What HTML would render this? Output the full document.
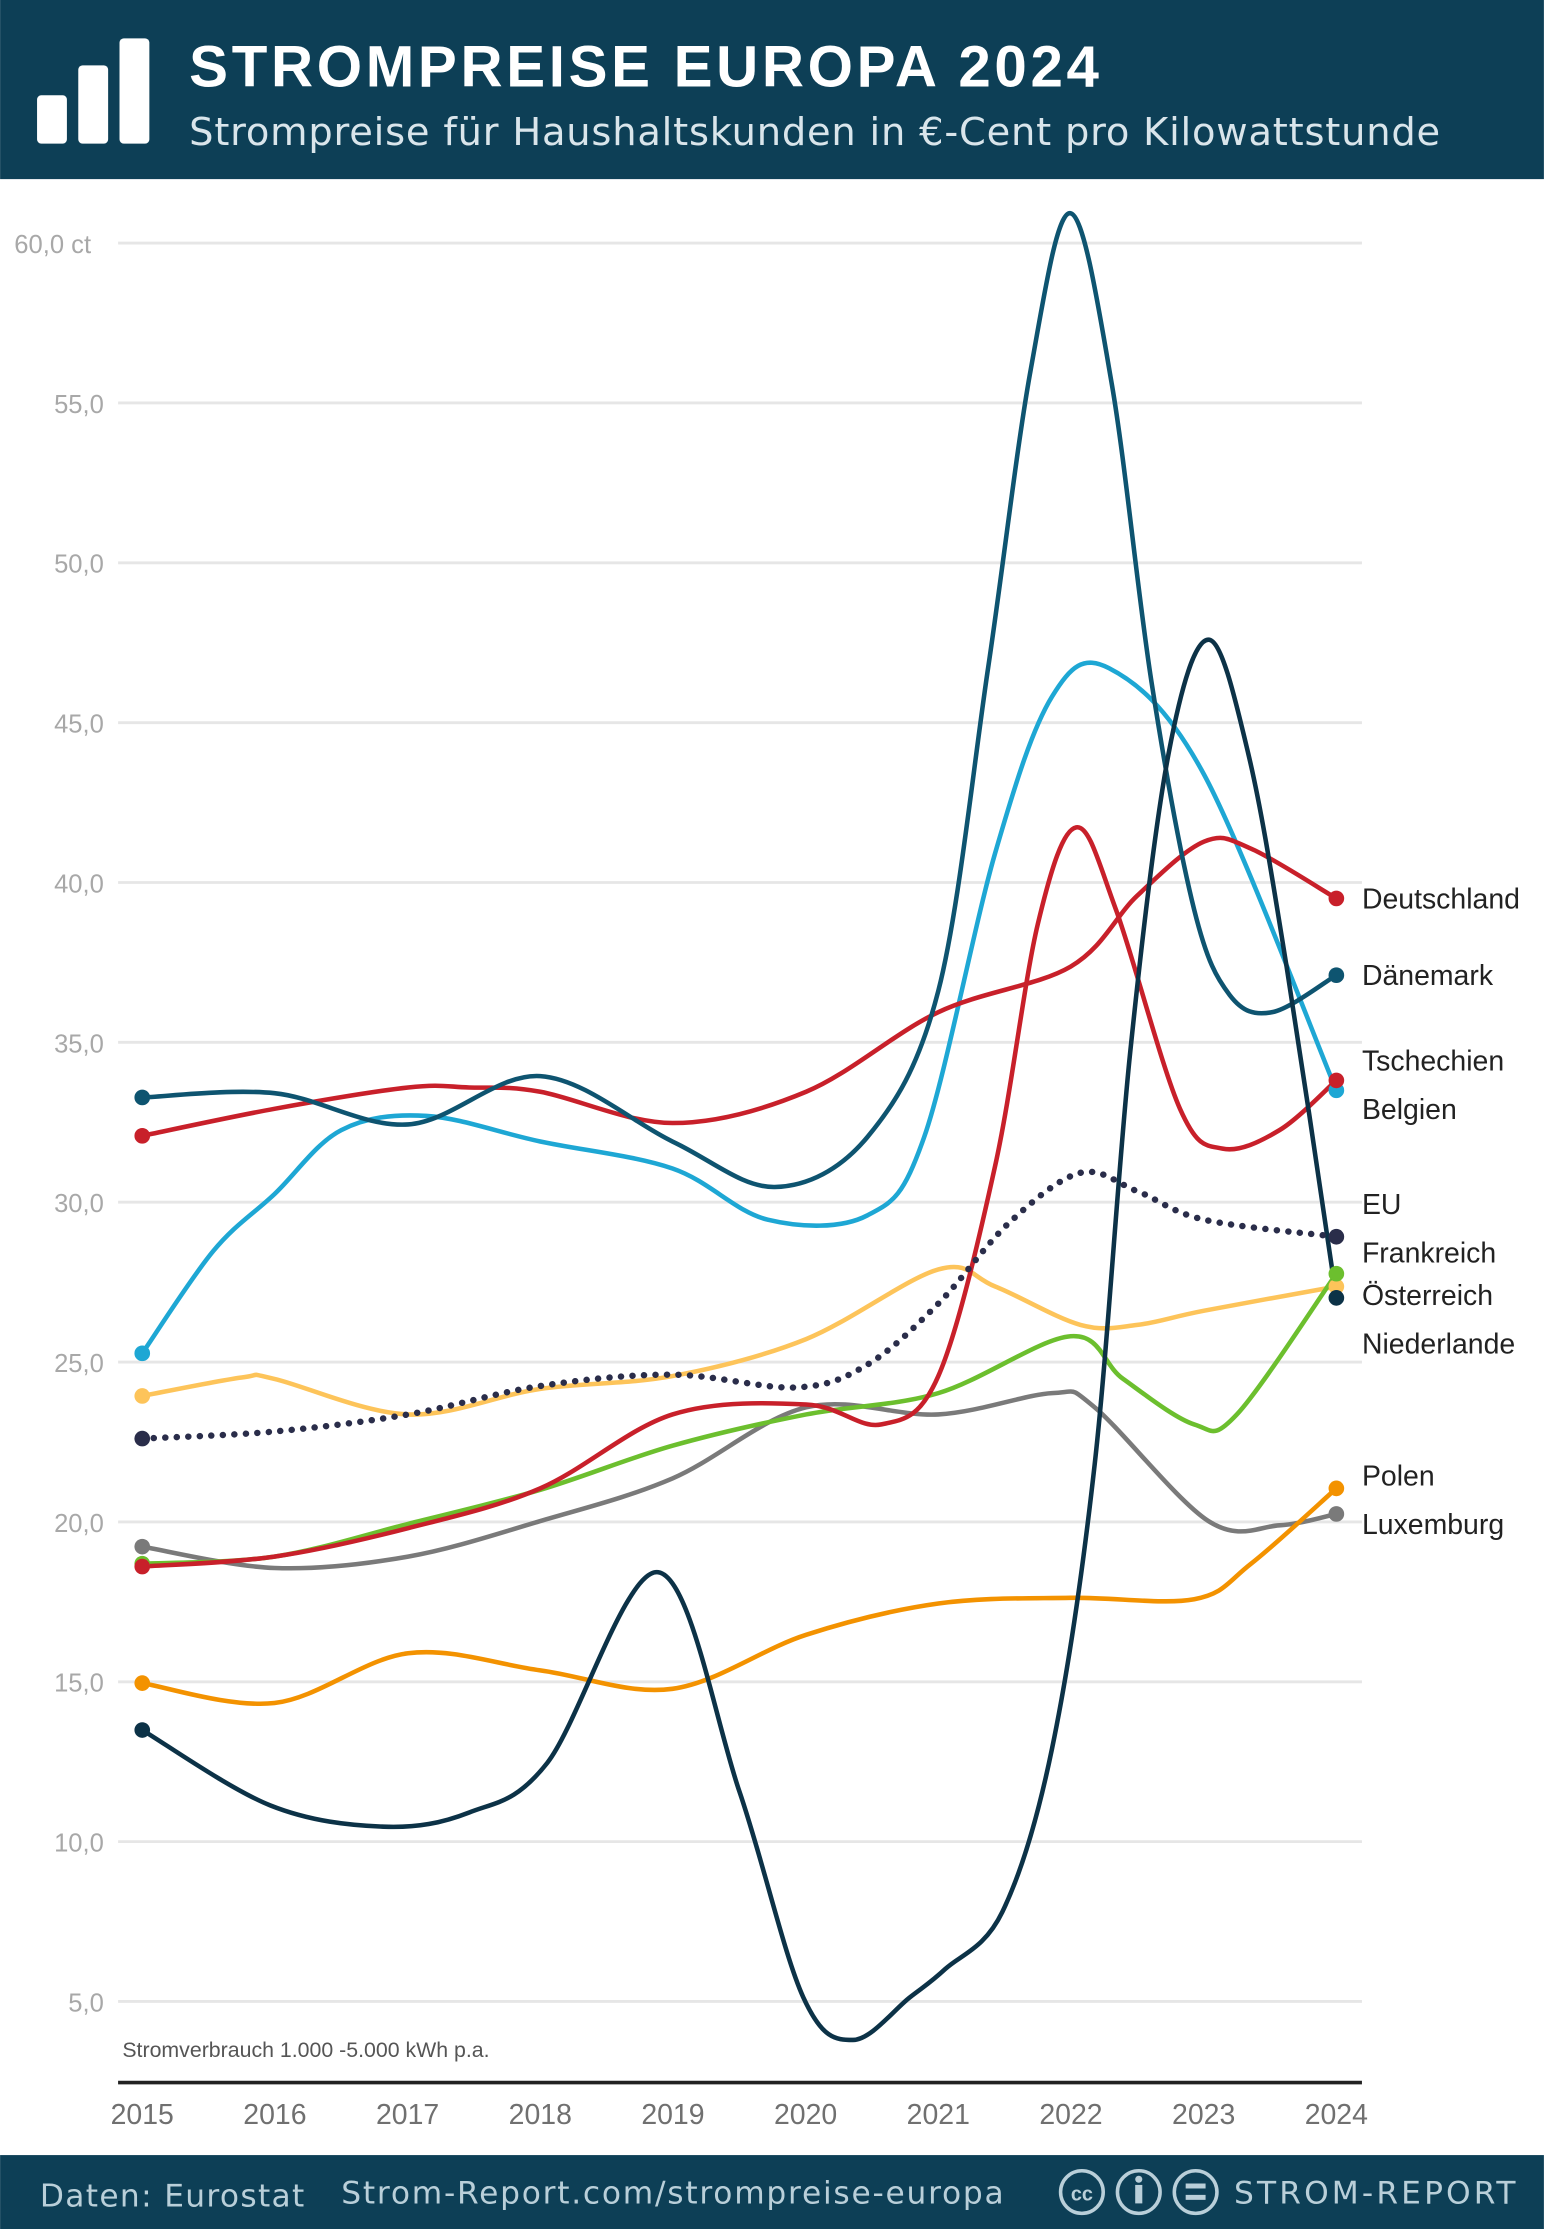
<!DOCTYPE html>
<html><head><meta charset="utf-8"><style>
html,body{margin:0;padding:0;background:#fff;}
svg{display:block;}
</style></head><body>
<svg id="s" width="1544" height="2229" viewBox="0 0 1086 1568" xmlns="http://www.w3.org/2000/svg">
<rect x="0" y="0" width="1086" height="1568" fill="#fff"/>
<rect x="0" y="0" width="1086" height="126" fill="#0d3f56"/>
<rect x="26" y="67" width="21" height="34" rx="3" fill="#fff"/>
<rect x="55" y="46" width="21" height="55" rx="3" fill="#fff"/>
<rect x="84" y="27" width="21" height="74" rx="3" fill="#fff"/>
<text x="133" y="61" font-family="Liberation Sans, sans-serif" font-weight="bold" font-size="41" fill="#fff" textLength="640">STROMPREISE EUROPA 2024</text>
<text x="133" y="102" font-family="DejaVu Sans, sans-serif" font-size="27" fill="#d9e5eb" textLength="880">Strompreise für Haushaltskunden in €-Cent pro Kilowattstunde</text>
<g id="grid" stroke="#e6e6e6" stroke-width="2"></g>
<g id="ylab" font-family="Liberation Sans, sans-serif" font-size="18" fill="#a8a8a8"></g>
<line x1="83" y1="1465" x2="958" y2="1465" stroke="#222" stroke-width="2.5"/>
<g id="xlab" font-family="Liberation Sans, sans-serif" font-size="20" fill="#707070" text-anchor="middle"></g>
<text x="86" y="1447" font-family="Liberation Sans, sans-serif" font-size="15" fill="#555">Stromverbrauch 1.000 -5.000 kWh p.a.</text>
<g id="series" fill="none" stroke-width="3.2" stroke-linecap="round"></g>
<g id="dots"></g>
<g font-family="Liberation Sans, sans-serif" font-size="20" fill="#222">
<text x="958" y="639">Deutschland</text>
<text x="958" y="693">Dänemark</text>
<text x="958" y="753">Tschechien</text>
<text x="958" y="787">Belgien</text>
<text x="958" y="854">EU</text>
<text x="958" y="888">Frankreich</text>
<text x="958" y="918">Österreich</text>
<text x="958" y="952">Niederlande</text>
<text x="958" y="1045">Polen</text>
<text x="958" y="1079">Luxemburg</text>
</g>
<rect x="0" y="1516" width="1086" height="52" fill="#0d3f56"/>
<g font-family="DejaVu Sans, sans-serif" font-size="22" fill="#b9cfd9">
<text x="28" y="1552" textLength="186">Daten: Eurostat</text>
<text x="240" y="1550" textLength="466">Strom-Report.com/strompreise-europa</text>
<text x="868" y="1550" textLength="198">STROM-REPORT</text>
</g>
<g fill="none" stroke="#b9cfd9" stroke-width="2.5">
<circle cx="761" cy="1542" r="15"/><circle cx="801" cy="1542" r="15"/><circle cx="841" cy="1542" r="15"/>
</g>
<text x="761" y="1548" font-family="Liberation Sans, sans-serif" font-weight="bold" font-size="14" fill="#b9cfd9" text-anchor="middle">cc</text>
<circle cx="801" cy="1533" r="2.5" fill="#b9cfd9"/><rect x="798.5" y="1537" width="5" height="13" fill="#b9cfd9"/>
<rect x="834" y="1536" width="14" height="3.5" fill="#b9cfd9"/><rect x="834" y="1544" width="14" height="3.5" fill="#b9cfd9"/>
</svg>
<script>
var NS="http://www.w3.org/2000/svg";
function el(t,a,p){var e=document.createElementNS(NS,t);for(var k in a)e.setAttribute(k,a[k]);document.getElementById(p).appendChild(e);return e;}
var labs=["60,0 ct","55,0","50,0","45,0","40,0","35,0","30,0","25,0","20,0","15,0","10,0","5,0"];
for(var i=0;i<12;i++){var y=171+i*112.45;el("line",{x1:83,y1:y,x2:958,y2:y},"grid");
var t=el("text",i==0?{x:10,y:y+7}:{x:73,y:y+7,"text-anchor":"end"},"ylab");t.textContent=labs[i];}
for(var i=0;i<10;i++){var t=el("text",{x:100+93.33*i,y:1494},"xlab");t.textContent=2015+i;}
function cr(p){var d="M"+p[0][0]+","+p[0][1];for(var i=0;i<p.length-1;i++){var p0=p[i-1]||p[i],p1=p[i],p2=p[i+1],p3=p[i+2]||p2;
d+=" C"+(p1[0]+(p2[0]-p0[0])/6)+","+(p1[1]+(p2[1]-p0[1])/6)+" "+(p2[0]-(p3[0]-p1[0])/6)+","+(p2[1]-(p3[1]-p1[1])/6)+" "+p2[0]+","+p2[1];}return d;}
var S=[
["#7a7a7a",[[100,1088],[193,1103],[287,1095],[380,1070],[473,1040],[567,990],[660,995],[740,980],[770,990],[850,1070],[900,1073],[940,1065]]],
["#f39200",[[100,1184],[193,1198],[287,1163],[380,1175],[473,1188],[567,1150],[660,1128],[753,1124],[840,1125],[880,1100],[940,1047]]],
["#fdc45a",[[100,982],[170,969],[193,970],[287,995],[380,977],[473,968],[567,942],[660,893],[700,905],[760,932],[800,932],[847,922],[940,905]]],
["#6cbf2e",[[100,1100],[193,1095],[287,1072],[380,1048],[473,1017],[567,995],[660,980],[753,940],[790,970],[840,1002],[870,995],[940,896]]],
["#1ea7d4",[[100,952],[150,880],[193,840],[240,795],[300,785],[380,803],[473,822],[540,858],[610,855],[650,800],[700,600],[740,490],[780,470],[847,545],[940,767]]],
["#c8202a",[[100,1102],[193,1095],[287,1075],[380,1047],[473,995],[567,988],[620,1002],[660,968],[700,820],[730,650],[757,582],[785,640],[830,780],[860,808],[900,795],[940,760]]],
["#c8202a",[[100,799],[193,780],[287,765],[330,765],[380,768],[473,790],[567,768],[660,712],[753,680],[800,630],[847,592],[880,597],[940,632]]],
["#0e5470",[[100,772],[193,769],[287,791],[380,757],[473,803],[545,835],[610,800],[660,697],[695,470],[725,260],[753,150],[782,270],[810,480],[840,640],[865,700],[895,712],[940,686]]],
["#0c3247",[[100,1217],[190,1270],[270,1285],[330,1275],[385,1240],[463,1106],[520,1260],[565,1405],[600,1435],[640,1405],[665,1385],[705,1345],[740,1230],[770,1030],[795,740],[822,530],[850,450],[878,530],[905,680],[940,913]]],
["#2a2d4a",[[100,1012],[193,1007],[287,995],[380,975],[473,967],[560,976],[610,960],[660,917],[710,860],[760,825],[800,838],[847,858],[940,870]],1]
];
S.forEach(function(s){var a={d:cr(s[1]),stroke:s[0]};if(s[2]){a["stroke-dasharray"]="0.1 8";a["stroke-width"]=4.5;}
el("path",a,"series");var f=s[1][0],l=s[1][s[1].length-1];
el("circle",{cx:f[0],cy:f[1],r:5.5,fill:s[0]},"dots");el("circle",{cx:l[0],cy:l[1],r:5.5,fill:s[0]},"dots");});
</script>
</body></html>
